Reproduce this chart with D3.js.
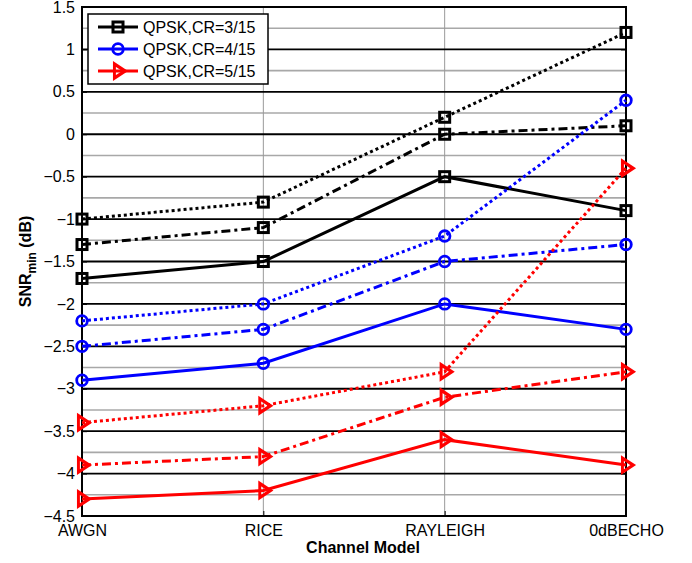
<!DOCTYPE html>
<html>
<head>
<meta charset="utf-8">
<script src="https://cdn.jsdelivr.net/npm/d3@7"></script>
<style>
  body { margin: 0; background: #fff; }
  text { font-family: Arial, "Liberation Sans", sans-serif; }
</style>
</head>
<body>
<div id="chart"></div>
<script>
// channel models on the x axis
const channels = ['AWGN', 'RICE', 'RAYLEIGH', '0dBECHO'];
const yTicks = [-4.5, -4, -3.5, -3, -2.5, -2, -1.5, -1, -0.5, 0, 0.5, 1, 1.5];

// SNRmin values per code rate (three curves each: dotted, dash-dot, solid)
const cr3Dotted  = [-1.0, -0.8, 0.2, 1.2];
const cr3DashDot = [-1.3, -1.1, 0.0, 0.1];
const cr3Solid   = [-1.7, -1.5, -0.5, -0.9];
const cr4Dotted  = [-2.2, -2.0, -1.2, 0.4];
const cr4DashDot = [-2.5, -2.3, -1.5, -1.3];
const cr4Solid   = [-2.9, -2.7, -2.0, -2.3];
const cr5Dotted  = [-3.4, -3.2, -2.8, -0.4];
const cr5DashDot = [-3.9, -3.8, -3.1, -2.8];
const cr5Solid   = [-4.3, -4.2, -3.6, -3.9];

const legendLabels = ['QPSK,CR=3/15', 'QPSK,CR=4/15', 'QPSK,CR=5/15'];

const dash = { dotted: '3,3', dashdot: '9,4,3,4', solid: null };

const series = [
  { values: cr3Dotted,  color: '#000', marker: 'square', style: 'dotted' },
  { values: cr3DashDot, color: '#000', marker: 'square', style: 'dashdot' },
  { values: cr3Solid,   color: '#000', marker: 'square', style: 'solid' },
  { values: cr4Dotted,  color: '#00f', marker: 'circle', style: 'dotted' },
  { values: cr4DashDot, color: '#00f', marker: 'circle', style: 'dashdot' },
  { values: cr4Solid,   color: '#00f', marker: 'circle', style: 'solid' },
  { values: cr5Dotted,  color: '#f00', marker: 'triangle', style: 'dotted' },
  { values: cr5DashDot, color: '#f00', marker: 'triangle', style: 'dashdot' },
  { values: cr5Solid,   color: '#f00', marker: 'triangle', style: 'solid' }
];

const legendItems = [
  { label: legendLabels[0], color: '#000', marker: 'square' },
  { label: legendLabels[1], color: '#00f', marker: 'circle' },
  { label: legendLabels[2], color: '#f00', marker: 'triangle' }
];

const W = 692, H = 563;
const margin = { top: 7, right: 66, bottom: 47, left: 82 };

const svg = d3.select('#chart').append('svg')
  .attr('width', W)
  .attr('height', H);

const x = d3.scalePoint()
  .domain(channels)
  .range([margin.left, W - margin.right]);

const y = d3.scaleLinear()
  .domain([-4.5, 1.5])
  .range([H - margin.bottom, margin.top]);

const pLeft = margin.left, pRight = W - margin.right;
const pTop = margin.top, pBottom = H - margin.bottom;

// minor grid (0.25 steps, grey)
const minor = d3.range(-4.25, 1.5, 0.5);
svg.append('g')
  .selectAll('line')
  .data(minor)
  .join('line')
  .attr('x1', pLeft).attr('x2', pRight)
  .attr('y1', d => y(d)).attr('y2', d => y(d))
  .attr('stroke', '#a8a8a8')
  .attr('stroke-width', 1.6);

// vertical grid
svg.append('g')
  .selectAll('line')
  .data(channels.slice(1, -1))
  .join('line')
  .attr('x1', d => x(d)).attr('x2', d => x(d))
  .attr('y1', pTop).attr('y2', pBottom)
  .attr('stroke', '#999')
  .attr('stroke-width', 1);

// major grid (0.5 steps, black)
svg.append('g')
  .selectAll('line')
  .data(yTicks.slice(1, -1))
  .join('line')
  .attr('x1', pLeft).attr('x2', pRight)
  .attr('y1', d => y(d)).attr('y2', d => y(d))
  .attr('stroke', '#000')
  .attr('stroke-width', 1.8);

// axes
const yAxis = svg.append('g')
  .attr('transform', `translate(${pLeft},0)`)
  .call(d3.axisLeft(y).tickValues(yTicks).tickSize(-5).tickPadding(7).tickFormat(d3.format('')));
yAxis.select('.domain').remove();
yAxis.selectAll('text').attr('font-size', 16).attr('fill', '#000');

const yAxisR = svg.append('g')
  .attr('transform', `translate(${pRight},0)`)
  .call(d3.axisRight(y).tickValues(yTicks).tickSize(-5).tickFormat(''));
yAxisR.select('.domain').remove();

const xAxis = svg.append('g')
  .attr('transform', `translate(0,${pBottom})`)
  .call(d3.axisBottom(x).tickSize(-5).tickPadding(8));
xAxis.select('.domain').remove();
xAxis.selectAll('text').attr('font-size', 16).attr('fill', '#000').attr('dy', '0.72em');

svg.selectAll('.tick line').attr('stroke', '#000').attr('stroke-width', 1);

// frame
svg.append('rect')
  .attr('x', pLeft).attr('y', pTop)
  .attr('width', pRight - pLeft).attr('height', pBottom - pTop)
  .attr('fill', 'none')
  .attr('stroke', '#000')
  .attr('stroke-width', 2);

// markers
const triangle = d3.symbol().type(d3.symbolTriangle).size(60);
function drawMarker(sel, type, color) {
  if (type === 'square') {
    sel.append('rect')
      .attr('x', -5).attr('y', -5)
      .attr('width', 10).attr('height', 10)
      .attr('fill', 'none').attr('stroke', color).attr('stroke-width', 3);
  } else if (type === 'circle') {
    sel.append('circle')
      .attr('r', 5.3)
      .attr('fill', 'none').attr('stroke', color).attr('stroke-width', 2.8);
  } else {
    sel.append('path')
      .attr('d', triangle())
      .attr('transform', 'rotate(90) scale(1.2,1.05)')
      .attr('fill', 'none').attr('stroke', color).attr('stroke-width', 2.8);
  }
}

const line = d3.line()
  .x((d, i) => x(channels[i]))
  .y(d => y(d));

const plot = svg.append('g');
series.forEach(s => {
  plot.append('path')
    .datum(s.values)
    .attr('d', line)
    .attr('fill', 'none')
    .attr('stroke', s.color)
    .attr('stroke-width', 3)
    .attr('stroke-dasharray', dash[s.style]);

  plot.append('g')
    .selectAll('g')
    .data(s.values)
    .join('g')
    .attr('transform', (d, i) => `translate(${x(channels[i])},${y(d)})`)
    .each(function () { drawMarker(d3.select(this), s.marker, s.color); });
});

// legend
const lg = svg.append('g');
lg.append('rect')
  .attr('x', 88).attr('y', 14)
  .attr('width', 180).attr('height', 70)
  .attr('fill', '#fff')
  .attr('stroke', '#000')
  .attr('stroke-width', 1.5);

legendItems.forEach((d, i) => {
  const cy = 27 + i * 22;
  lg.append('line')
    .attr('x1', 98).attr('x2', 138)
    .attr('y1', cy).attr('y2', cy)
    .attr('stroke', d.color)
    .attr('stroke-width', 3);
  drawMarker(lg.append('g').attr('transform', `translate(118,${cy})`), d.marker, d.color);
  lg.append('text')
    .attr('x', 143).attr('y', cy)
    .attr('dy', '0.36em')
    .attr('font-size', 16)
    .text(d.label);
});

// axis titles
svg.append('text')
  .attr('x', (pLeft + pRight) / 2 + 9)
  .attr('y', 553)
  .attr('text-anchor', 'middle')
  .attr('font-size', 16)
  .attr('font-weight', 'bold')
  .text('Channel Model');

const yt = svg.append('text')
  .attr('transform', `translate(31,${(pTop + pBottom) / 2}) rotate(-90)`)
  .attr('text-anchor', 'middle')
  .attr('font-size', 16)
  .attr('font-weight', 'bold');
yt.append('tspan').text('SNR');
yt.append('tspan').attr('font-size', 12).attr('dy', 5).text('min');
yt.append('tspan').attr('dy', -5).text(' (dB)');
</script>
</body>
</html>
